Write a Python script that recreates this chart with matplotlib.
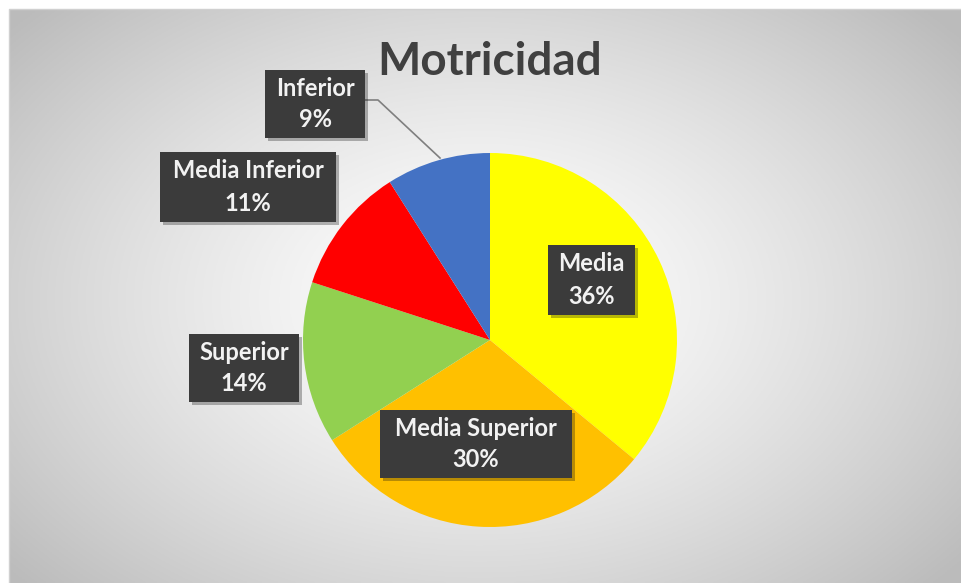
import numpy as np
import matplotlib
matplotlib.use("Agg")
import matplotlib.pyplot as plt
from matplotlib.patches import Rectangle
import matplotlib.patheffects as pe

# Data
categories = ["Media", "Media Superior", "Superior", "Media Inferior", "Inferior"]
values = [36, 30, 14, 11, 9]
colors = ["#FFFF00", "#FFC000", "#92D050", "#FF0000", "#4472C4"]

W, H = 961, 583
fig = plt.figure(figsize=(W / 100, H / 100), dpi=100)
fig.patch.set_facecolor("white")
ax = fig.add_axes([0, 0, 1, 1])
ax.set_xlim(0, W)
ax.set_ylim(0, H)
ax.axis("off")

# radial gradient background (white centre, grey edges)
xx, yy = np.meshgrid(np.linspace(9, W, 400), np.linspace(H - 9, 0, 260))
cx, cy = 480, H - 300
r = np.sqrt(((xx - cx) / 560) ** 2 + ((yy - cy) / 380) ** 2)
shade = 1.0 - 0.23 * np.clip(r, 0, 1.1) ** 1.4
img = np.dstack([shade, shade, shade])
ax.imshow(img, extent=[9, W, 0, H - 9], origin="upper", aspect="auto", zorder=0)
ax.plot([9, 9, W], [0, H - 9, H - 9], color="#d0d0d0", lw=1, zorder=1)

# pie
ax.pie(values, colors=colors, startangle=90, counterclock=False,
       center=(490, H - 340), radius=187, frame=True,
       wedgeprops=dict(linewidth=0))
ax.set_xlim(0, W)
ax.set_ylim(0, H)
ax.set_aspect("auto")
for s in ax.spines.values():
    s.set_visible(False)

ax.text(490, H - 62, "Motricidad", ha="center", va="center",
        fontsize=33, fontweight="bold", color="#404040", family="Lato", zorder=5)

# label boxes (left, top, right, bottom in pixels)
boxes = {
    "Media": (548, 245, 635, 315),
    "Media Superior": (380, 410, 572, 478),
    "Superior": (189, 334, 299, 402),
    "Media Inferior": (160, 152, 336, 222),
    "Inferior": (265, 70, 365, 138),
}

# leader line for Inferior
ax.plot([365, 378, 440], [H - 100, H - 100, H - 158], color="#7f7f7f", lw=1.2, zorder=3)

for cat, val in zip(categories, values):
    x0, y0, x1, y1 = boxes[cat]
    rect = Rectangle((x0, H - y1), x1 - x0, y1 - y0, facecolor="#3b3b3b",
                     edgecolor="none", zorder=4,
                     path_effects=[pe.SimplePatchShadow(offset=(2, -2), alpha=0.3),
                                   pe.Normal()])
    ax.add_patch(rect)
    xc = (x0 + x1) / 2
    ax.text(xc, H - (y0 + (y1 - y0) * 0.27), cat, ha="center", va="center",
            fontsize=17, fontweight="bold", color="#f2f2f2", family="Lato", zorder=5)
    ax.text(xc, H - (y0 + (y1 - y0) * 0.73), f"{val}%", ha="center", va="center",
            fontsize=17, fontweight="bold", color="#f2f2f2", family="Lato", zorder=5)

fig.savefig("out.png", dpi=100)
